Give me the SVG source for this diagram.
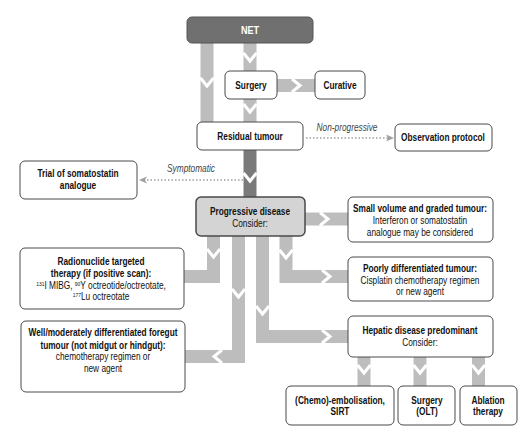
<svg xmlns="http://www.w3.org/2000/svg" width="528" height="444" viewBox="0 0 528 444">
<style>
.box{fill:#fff;stroke:#4a4a4a;stroke-width:1}
.b{font-family:"Liberation Sans",Arial,sans-serif;font-weight:bold;font-size:10px;fill:#111;text-anchor:middle}
.r{font-family:"Liberation Sans",Arial,sans-serif;font-size:10px;fill:#111;text-anchor:middle}
.i{font-family:"Liberation Sans",Arial,sans-serif;font-style:italic;font-size:10px;fill:#444;text-anchor:middle}
.bar{fill:none;stroke:#bdbdbd;stroke-width:13;stroke-linejoin:miter}
.dbar{fill:none;stroke:#7a7a7a;stroke-width:13}
.chev{fill:none;stroke:#fff;stroke-width:3;stroke-linejoin:miter}
.dot{fill:none;stroke:#a0a0a0;stroke-width:1.5;stroke-dasharray:1.5 2}
.ah{fill:#a0a0a0}
</style>
<g id="connectors">
<path class="bar" d="M207 43V122"/>
<polyline class="chev" points="200.5,78 207,86 213.5,78"/>
<path class="bar" d="M250 43V71"/>
<polyline class="chev" points="243.5,53 250,61 256.5,53"/>
<path class="bar" d="M277 85.5H315"/>
<polyline class="chev" points="292,79 300,85.5 292,92"/>
<path class="bar" d="M250 99V122"/>
<polyline class="chev" points="243.5,104 250,112 256.5,104"/>
<path class="dbar" d="M250 150V197"/>
<polyline class="chev" points="243.5,173 250,181 256.5,173"/>
<path class="bar" d="M305 219H348"/>
<polyline class="chev" points="320,212.5 328,219 320,225.5"/>
<path class="bar" d="M213.5 236V276.5H184"/>
<polyline class="chev" points="207,249 213.5,257 220,249"/>
<path class="bar" d="M238.5 236V356.5H185"/>
<polyline class="chev" points="232,289 238.5,297 245,289"/>
<polyline class="chev" points="222,350 214,356.5 222,363"/>
<path class="bar" d="M262.5 236V336.5H348"/>
<polyline class="chev" points="256,306 262.5,314 269,306"/>
<polyline class="chev" points="322,330 330,336.5 322,343"/>
<path class="bar" d="M286 236V276.5H348"/>
<polyline class="chev" points="279.5,250 286,258 292.5,250"/>
<polyline class="chev" points="322,270 330,276.5 322,283"/>
<path class="bar" d="M364 357V386"/>
<polyline class="chev" points="357.5,365 364,373 370.5,365"/>
<path class="bar" d="M420 357V386"/>
<polyline class="chev" points="413.5,365 420,373 426.5,365"/>
<path class="bar" d="M478.5 357V386"/>
<polyline class="chev" points="472,365 478.5,373 485,365"/>
<path class="dot" d="M306 138H388"/>
<path class="ah" d="M394 138L386 134.5L388 138L386 141.5Z"/>
<text class="i" transform="translate(347 131) scale(.83 1)">Non-progressive</text>
<path class="dot" d="M243 180H146"/>
<path class="ah" d="M139 180L147 176.5L145 180L147 183.5Z"/>
<text class="i" transform="translate(191 172) scale(.83 1)">Symptomatic</text>
</g>
<g id="net">
<rect x="187" y="17" width="126" height="26" rx="5" fill="#707070" stroke="#555"/>
<text class="b" transform="translate(250 34) scale(.83 1)" style="fill:#fff;font-size:11px">NET</text>
</g>
<g id="surgery">
<rect class="box" x="225" y="71" width="52" height="28" rx="5"/>
<text class="b" transform="translate(251 89) scale(.83 1)">Surgery</text>
</g>
<g id="curative">
<rect class="box" x="315" y="71" width="50" height="28" rx="5"/>
<text class="b" transform="translate(340 89) scale(.83 1)">Curative</text>
</g>
<g id="residual">
<rect class="box" x="197" y="122" width="106" height="28" rx="5"/>
<text class="b" transform="translate(250 140) scale(.83 1)">Residual tumour</text>
</g>
<g id="observation">
<rect class="box" x="395" y="124" width="97" height="27" rx="5"/>
<text class="b" transform="translate(443 141) scale(.83 1)">Observation protocol</text>
</g>
<g id="trial">
<rect class="box" x="20" y="161" width="117" height="38" rx="5"/>
<text class="b" transform="translate(78 177) scale(.83 1)">Trial of somatostatin</text>
<text class="b" transform="translate(78 189) scale(.83 1)">analogue</text>
</g>
<g id="progressive">
<rect x="196" y="197" width="109" height="39" rx="5" fill="#d4d4d4" stroke="#4a4a4a" stroke-width="1.5"/>
<text class="b" transform="translate(250 215) scale(.83 1)">Progressive disease</text>
<text class="r" transform="translate(250 227) scale(.83 1)">Consider:</text>
</g>
<g id="smallvolume">
<rect class="box" x="348" y="197" width="145" height="45" rx="5"/>
<text class="b" transform="translate(420 212) scale(.83 1)">Small volume and graded tumour:</text>
<text class="r" transform="translate(420 224) scale(.83 1)">Interferon or somatostatin</text>
<text class="r" transform="translate(420 236) scale(.83 1)">analogue may be considered</text>
</g>
<g id="radionuclide">
<rect class="box" x="20" y="248" width="164" height="61" rx="5"/>
<text class="b" transform="translate(101 265) scale(.83 1)">Radionuclide targeted</text>
<text class="b" transform="translate(101 277) scale(.83 1)">therapy (if positive scan):</text>
<text class="r" transform="translate(101 289) scale(.83 1)"><tspan font-size="6" dy="-3">131</tspan><tspan dy="3">I MIBG, </tspan><tspan font-size="6" dy="-3">90</tspan><tspan dy="3">Y octreotide/octreotate,</tspan></text>
<text class="r" transform="translate(101 300) scale(.83 1)"><tspan font-size="6" dy="-3">177</tspan><tspan dy="3">Lu octreotate</tspan></text>
</g>
<g id="poorly">
<rect class="box" x="348" y="257" width="145" height="44" rx="5"/>
<text class="b" transform="translate(420 272) scale(.83 1)">Poorly differentiated tumour:</text>
<text class="r" transform="translate(420 284) scale(.83 1)">Cisplatin chemotherapy regimen</text>
<text class="r" transform="translate(420 295) scale(.83 1)">or new agent</text>
</g>
<g id="hepatic">
<rect class="box" x="348" y="316" width="145" height="41" rx="5"/>
<text class="b" transform="translate(420 334) scale(.83 1)">Hepatic disease predominant</text>
<text class="r" transform="translate(420 346) scale(.83 1)">Consider:</text>
</g>
<g id="wellmod">
<rect class="box" x="21" y="321" width="164" height="71" rx="5"/>
<text class="b" transform="translate(103 336) scale(.83 1)">Well/moderately differentiated foregut</text>
<text class="b" transform="translate(103 349) scale(.83 1)">tumour (not midgut or hindgut):</text>
<text class="r" transform="translate(103 360) scale(.83 1)">chemotherapy regimen or</text>
<text class="r" transform="translate(103 372) scale(.83 1)">new agent</text>
</g>
<g id="embolisation">
<rect class="box" x="286" y="386" width="108" height="39" rx="5"/>
<text class="b" transform="translate(340 404) scale(.83 1)">(Chemo)-embolisation,</text>
<text class="b" transform="translate(340 415) scale(.83 1)">SIRT</text>
</g>
<g id="surgeryolt">
<rect class="box" x="398" y="386" width="57" height="39" rx="5"/>
<text class="b" transform="translate(427 404) scale(.83 1)">Surgery</text>
<text class="b" transform="translate(427 415) scale(.83 1)">(OLT)</text>
</g>
<g id="ablation">
<rect class="box" x="460" y="386" width="57" height="39" rx="5"/>
<text class="b" transform="translate(488 404) scale(.83 1)">Ablation</text>
<text class="b" transform="translate(488 415) scale(.83 1)">therapy</text>
</g>
</svg>
